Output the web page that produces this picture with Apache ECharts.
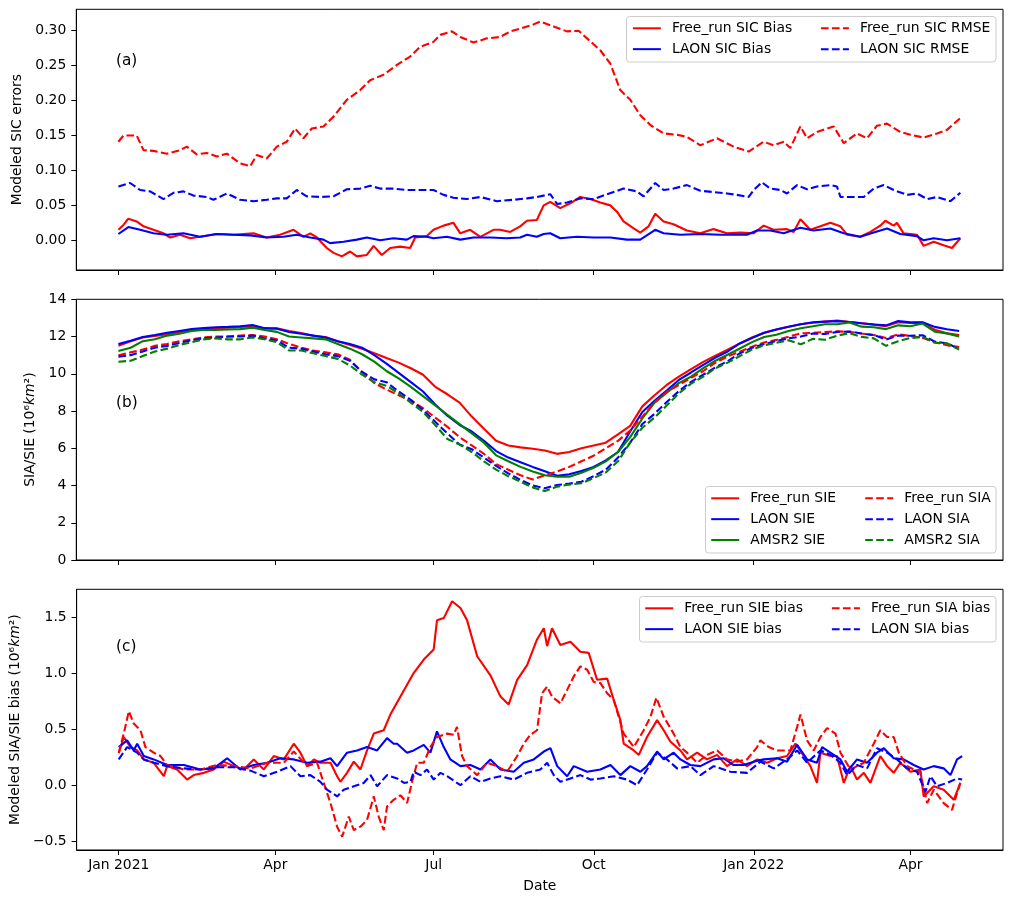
<!DOCTYPE html>
<html><head><meta charset="utf-8">
<script src="https://cdn.jsdelivr.net/npm/echarts@6/dist/echarts.min.js"></script>
<style>html,body{margin:0;padding:0;background:#fff}#chart{width:1014px;height:900px}</style>
</head><body><div id="chart"></div>
<script>
const FONT = 'DejaVu Sans';

// x positions are days since 2021-01-01
const xTickValues = [0, 90, 181, 273, 365, 455];
const xTickLabels = ['Jan 2021', 'Apr', 'Jul', 'Oct', 'Jan 2022', 'Apr'];
const yTicksA = [0, 0.05, 0.1, 0.15, 0.2, 0.25, 0.3];
const yTicksC = [-0.5, 0, 0.5, 1, 1.5];

// ---------- Panel (a): SIC errors (irregular read-off points) ----------
const frSicBiasDays = [0,2.9,5.7,10.5,14.4,20.1,25.9,29.7,35.4,41.2, 46.9,56.5,66.1,77.6,85.2,92.9,100.6,106.3,110.2,114, 119.7,123.6,128.4,133.1,137,142.7,146.6,151.3,156.1,161.9, 167.6,170.5,177.2,181,186.8,192.5,196.4,202.1,207.9,215.5, 219.3,225.1,230.8,234.7,240.4,244.3,248.1,253.8,259.6,265.3, 271.1,276.8,282.6,286.4,290.2,296,299.8,304.6,308.4,313.2, 318.9,326.6,334.3,341.9,349.6,357.3,364.9,370.7,376.4,384.1, 387.9,391.8,397.5,403.3,409,414.8,418.6,426.2,432,437.7, 440.6,445.4,447.3,451.1,458.8,462.6,468.4,474.1,478.9,483.7];
const frSicBias = [0.015,0.022,0.031,0.027,0.02,0.015,0.01,0.004,0.008,0.003, 0.005,0.009,0.008,0.01,0.004,0.008,0.015,0.005,0.01,0.004, -0.011,-0.018,-0.023,-0.016,-0.023,-0.021,-0.008,-0.021,-0.011,-0.009, -0.011,0.004,0.006,0.015,0.021,0.025,0.01,0.015,0.005,0.015, 0.015,0.012,0.02,0.028,0.029,0.05,0.055,0.046,0.053,0.062, 0.059,0.054,0.05,0.041,0.027,0.017,0.011,0.02,0.038,0.027, 0.023,0.014,0.01,0.016,0.01,0.011,0.01,0.021,0.015,0.016, 0.012,0.03,0.015,0.02,0.025,0.02,0.008,0.005,0.012,0.021, 0.028,0.021,0.025,0.01,0.008,-0.008,-0.002,-0.007,-0.011,0.003];

const laonSicBiasDays = [0,5.7,12.5,20.1,27.8,37.4,46.9,56.5,66.1,75.7, 85.2,94.8,102.5,110.2,117.8,121.6,129.3,137,142.7,150.4, 158,165.7,169.5,177.2,181,188.7,196.4,204,213.6,223.2, 230.8,234.7,240.4,244.3,248.1,253.8,263.4,273,282.6,292.1, 299.8,308.4,313.2,322.8,334.3,345.8,353.4,361.1,366.9,374.5, 382.2,391.8,399.4,409,416.7,426.2,433.9,441.6,449.2,458.8, 462.6,468.4,476,483.7];
const laonSicBias = [0.009,0.019,0.015,0.01,0.008,0.01,0.005,0.009,0.008,0.007, 0.004,0.005,0.008,0.004,0.001,-0.004,-0.002,0.001,0.004,0, 0.003,0.001,0.006,0.005,0.003,0.005,0.001,0.004,0.004,0.003, 0.004,0.008,0.005,0.009,0.01,0.003,0.005,0.004,0.004,0.001, 0.001,0.015,0.01,0.008,0.009,0.008,0.008,0.008,0.014,0.014, 0.01,0.018,0.014,0.017,0.01,0.005,0.011,0.017,0.009,0.006, 0,0.003,0,0.003];

const frSicRmseDays = [0,2.9,10.5,14.4,20.1,27.8,35.4,39.3,45,50.8, 56.5,62.3,69.9,75.7,79.5,85.2,91,96.7,101.5,106.3, 111.1,117.8,123.6,131.2,138.9,144.6,152.3,160,167.6,173.4, 181,184.9,191.6,196.4,204,211.7,219.3,225.1,230.8,238.5, 242.3,250,257.7,264.4,269.2,276.8,282.6,288.3,294.1,299.8, 305.6,313.2,320.9,326.6,334.3,343.9,353.4,362.1,370.7,376.4, 382.2,386,391.8,395.6,401.3,410.9,416.7,424.3,430.1,435.8, 441.6,449.2,455,462.6,470.3,476,483.7];
const frSicRmse = [0.141,0.15,0.15,0.129,0.128,0.124,0.129,0.134,0.123,0.125, 0.12,0.124,0.11,0.106,0.122,0.117,0.134,0.141,0.16,0.146, 0.16,0.163,0.177,0.201,0.215,0.229,0.237,0.251,0.263,0.277, 0.284,0.294,0.299,0.291,0.283,0.289,0.291,0.299,0.303,0.309, 0.313,0.306,0.299,0.30,0.289,0.272,0.253,0.215,0.201,0.179, 0.165,0.153,0.151,0.148,0.136,0.146,0.134,0.127,0.141,0.136, 0.141,0.132,0.163,0.146,0.155,0.163,0.139,0.153,0.146,0.164, 0.167,0.155,0.151,0.147,0.153,0.158,0.175];

const laonSicRmseDays = [0,6.7,12.5,18.2,25.9,31.6,37.4,43.1,50.8,54.6, 62.3,69.9,77.6,85.2,91,96.7,102.5,108.2,115.9,123.6, 131.2,138.9,144.6,150.4,158,165.7,173.4,181,186.8,192.5, 200.2,207.9,217.4,227,234.7,240.4,248.1,252,257.7,265.3, 273,280.7,290.2,297.9,301.7,308.4,313.2,318.9,326.6,334.3, 341.9,349.6,355.4,362.1,365,369.7,374.5,380.3,384.1,389.9, 395.6,401.3,409,412.8,414.8,422.4,428.2,433.9,439.7,445.4, 453.1,458.8,464.6,470.3,478,483.7];
const laonSicRmse = [0.077,0.082,0.072,0.07,0.059,0.068,0.07,0.064,0.062,0.058, 0.067,0.058,0.056,0.058,0.06,0.06,0.072,0.063,0.062,0.063, 0.073,0.074,0.078,0.074,0.074,0.072,0.072,0.072,0.065,0.061, 0.059,0.062,0.056,0.058,0.06,0.062,0.066,0.052,0.054,0.06, 0.059,0.066,0.074,0.07,0.063,0.082,0.072,0.074,0.079,0.071, 0.069,0.067,0.065,0.062,0.072,0.083,0.074,0.072,0.067,0.079, 0.073,0.077,0.079,0.077,0.062,0.062,0.062,0.074,0.079,0.072, 0.065,0.067,0.059,0.062,0.056,0.068];

// ---------- Panel (b): SIE / SIA, weekly samples ----------
const weekDays = [0,7,14,21,28,35,42,49,56,63, 70,77,84,91,98,105,112,119,126,133, 140,147,154,161,168,175,182,189,196,203, 210,217,224,231,238,245,252,259,266,273, 280,287,294,301,308,315,322,329,336,343, 350,357,364,371,378,385,392,399,406,413, 420,427,434,441,448,455,462,469,476,483];
const frSIE = [11.5,11.75,11.95,12.03,12.12,12.25,12.33,12.41,12.45,12.48, 12.52,12.55,12.43,12.45,12.3,12.19,12.04,11.97,11.75,11.55, 11.35,11.1,10.85,10.6,10.3,9.95,9.3,8.9,8.45,7.7, 7.05,6.4,6.15,6.05,5.97,5.88,5.7,5.8,6.0,6.15, 6.3,6.75,7.2,8.25,8.85,9.4,9.85,10.25,10.64,10.97, 11.3,11.63,11.95,12.2,12.38,12.53,12.66,12.74,12.8,12.86, 12.78,12.71,12.64,12.56,12.77,12.73,12.75,12.37,12.17,12.08];
const laonSIE = [11.6,11.78,11.98,12.08,12.2,12.3,12.4,12.45,12.5,12.52, 12.55,12.62,12.45,12.42,12.25,12.15,12.05,11.95,11.75,11.6, 11.4,11.0,10.55,10.05,9.55,9.05,8.35,7.75,7.25,6.9, 6.4,5.85,5.5,5.25,5.0,4.77,4.52,4.6,4.78,5.0, 5.35,5.8,6.9,7.95,8.55,9.1,9.67,10.07,10.48,10.87, 11.2,11.63,11.92,12.2,12.38,12.53,12.66,12.77,12.8,12.83, 12.78,12.71,12.65,12.6,12.83,12.76,12.77,12.52,12.39,12.3];
const amsrSIE = [11.22,11.4,11.75,11.85,12.05,12.15,12.3,12.35,12.35,12.38, 12.4,12.48,12.35,12.25,12.0,11.95,11.9,11.85,11.6,11.35, 11.05,10.65,10.15,9.75,9.3,8.8,8.3,7.8,7.3,6.8, 6.3,5.62,5.3,5.0,4.75,4.55,4.47,4.47,4.68,4.95, 5.3,5.8,6.6,7.6,8.45,8.98,9.5,9.85,10.3,10.7, 11.02,11.36,11.7,11.98,12.1,12.3,12.45,12.55,12.66,12.66, 12.75,12.53,12.5,12.4,12.6,12.55,12.7,12.26,12.17,12.0];
const frSIA = [11.0,11.15,11.3,11.5,11.6,11.75,11.85,11.95,12.0,12.0, 12.05,12.08,12.0,11.85,11.6,11.4,11.25,11.15,11.05,10.75, 10.1,9.5,9.15,8.85,8.55,8.15,7.65,7.15,6.6,6.15, 5.7,5.15,4.85,4.55,4.32,4.55,4.75,5.0,5.3,5.6, 6.0,6.4,6.95,7.7,8.45,9.03,9.4,9.78,10.15,10.6, 10.93,11.19,11.45,11.68,11.82,11.99,12.17,12.2,12.24,12.28, 12.25,12.16,12.08,11.92,12.12,12.03,11.93,11.7,11.53,11.43];
const laonSIA = [10.92,11.0,11.2,11.4,11.5,11.65,11.8,11.9,11.95,12.0, 12.0,12.05,11.9,11.8,11.4,11.35,11.2,11.05,10.95,10.7, 10.1,9.7,9.55,9.05,8.6,8.05,7.42,6.8,6.2,5.95, 5.5,5.05,4.65,4.3,4.0,3.85,4.03,4.1,4.2,4.5, 4.85,5.5,6.3,7.3,7.85,8.48,9.07,9.57,9.95,10.35, 10.67,11.1,11.4,11.6,11.76,11.9,12.0,12.16,12.14,12.25, 12.27,12.16,12.08,11.84,12.05,12.04,12.07,11.73,11.64,11.33];
const amsrSIA = [10.65,10.7,10.95,11.2,11.35,11.55,11.7,11.85,11.9,11.85, 11.85,11.95,11.85,11.7,11.25,11.25,11.1,10.95,10.8,10.45, 9.95,9.55,9.35,8.95,8.45,7.95,7.25,6.5,6.2,5.8, 5.3,4.85,4.5,4.2,3.9,3.7,3.94,4.05,4.12,4.4, 4.7,5.3,6.3,7.1,7.65,8.3,8.95,9.47,9.85,10.3, 10.6,10.95,11.3,11.53,11.66,11.8,11.58,11.88,11.83,12.05, 12.18,11.98,11.9,11.5,11.75,11.92,11.98,11.67,11.64,11.3];

// ---------- Panel (c): SIE / SIA bias (irregular read-off points) ----------
const frSIEBiasDays = [0,2.9,6.7,10.6,14.4,20.1,25.9,27.8,33.5,39.3, 43.1,48.9,54.6,60.4,66.1,71.9,77.6,83.4,89.1,94.9, 100.6,104.4,108.3,112.1,115.9,121.7,125.5,127.4,131.2,135.1, 138.9,142.7,146.6,152.3,156.1,161.9,169.5,175.3,181,182.9, 186.8,191.6,196.4,200.2,206,213.6,219.4,224.1,229,234.7, 240.4,244.3,246.2,249,253.8,259.6,265.3,270.1,274.9,280.7, 284.5,288.3,290.2,296,298.9,303.6,309.4,313.2,317,322.8, 326.6,332.4,338.1,343.9,349.6,355.4,361.1,366.9,372.6,378.4, 384.1,388.9,393.7,397.5,401.3,403.3,409,412.8,416.7,420.5, 424.3,428.2,432,437.7,441.6,445.4,449.2,455,460.7,462.6, 468.4,474.1,479.9,483.7];
const frSIEBias = [0.285,0.43,0.34,0.31,0.23,0.2,0.08,0.17,0.14,0.05, 0.09,0.11,0.14,0.21,0.17,0.14,0.23,0.14,0.26,0.23, 0.37,0.29,0.17,0.23,0.2,0.2,0.08,0.03,0.11,0.21, 0.14,0.31,0.46,0.49,0.63,0.79,1.0,1.12,1.21,1.47, 1.49,1.64,1.58,1.47,1.15,0.98,0.79,0.72,0.94,1.07, 1.3,1.4,1.24,1.4,1.25,1.28,1.19,1.18,0.94,0.95, 0.76,0.58,0.37,0.31,0.27,0.43,0.58,0.49,0.39,0.31, 0.23,0.29,0.23,0.27,0.17,0.23,0.17,0.23,0.2,0.24, 0.26,0.37,0.26,0.17,0.02,0.29,0.26,0.26,0.02,0.17, 0.05,0.11,0.02,0.26,0.17,0.11,0.2,0.12,0.14,-0.1, -0.01,-0.04,-0.13,0.02];

const laonSIEBiasDays = [0,4.8,8.6,10.6,14.4,20.1,27.8,37.4,46.9,54.6, 62.3,69.9,77.6,85.3,92.9,100.6,108.3,115.9,121.7,125.5, 131.2,137,142.7,148.5,154.2,158,160,165.7,169.5,175.3, 179.1,182.9,186.8,190.6,196.4,202.1,207.9,213.6,219.4,227, 232.8,238.5,244.3,248.1,252,257.7,261.5,269.2,276.8,282.6, 288.3,294,299.8,303.6,309.4,313.2,318.9,322.8,328.5,334.3, 341.9,347.7,353.4,359.2,364.9,370.7,378.4,384.1,389.9,395.6, 401.3,404.2,409,414.8,418.6,424.3,430.1,435.8,439.7,445.4, 451.1,456.9,462.6,468.4,474.1,478,481.8,484.7];
const laonSIEBias = [0.34,0.4,0.31,0.37,0.26,0.23,0.18,0.18,0.14,0.15, 0.24,0.14,0.18,0.2,0.24,0.23,0.2,0.21,0.24,0.17, 0.29,0.31,0.34,0.31,0.42,0.37,0.37,0.29,0.31,0.36, 0.29,0.48,0.34,0.23,0.17,0.18,0.14,0.23,0.14,0.12, 0.2,0.23,0.3,0.33,0.17,0.08,0.17,0.12,0.14,0.18, 0.09,0.17,0.12,0.17,0.3,0.23,0.29,0.23,0.18,0.17, 0.23,0.24,0.18,0.18,0.21,0.23,0.24,0.21,0.36,0.23, 0.2,0.34,0.29,0.23,0.12,0.23,0.2,0.29,0.33,0.24, 0.23,0.18,0.14,0.17,0.15,0.09,0.23,0.26];

const frSIABiasDays = [0,2.9,5.8,8.6,12.5,15.3,20.1,24,27.8,37.4, 46.9,56.5,66.1,75.7,85.3,94.9,100.6,108.3,114,117.8, 121.7,125.5,128.4,132.2,135.1,138.9,142.7,146.6,149.4,152.3, 154.2,158,161.9,165.7,168.6,171.5,175.3,179.1,182.9,188.7, 192.5,194.4,197.3,200.2,206,211.7,217.4,223.2,229,232.8, 236.6,240.4,243.3,246.2,249,253.8,257.7,261.5,265.3,269.2, 273,276.8,280.7,284.5,290.2,296,301.7,305.6,309,313.2, 318.9,322.8,326.6,332.4,338.1,343.9,349.6,355.4,361.1,366.9, 368.8,373.6,378.4,386,389.9,391.8,395.6,399.4,403.3,407.1, 411.9,414.8,420.5,428.2,433.9,437.7,441.6,445.4,448.3,453.1, 460.7,464.6,468.4,474.1,478.9,481.8,483.7];
const frSIABias = [0.29,0.46,0.66,0.55,0.49,0.34,0.29,0.26,0.18,0.14, 0.14,0.18,0.17,0.15,0.2,0.2,0.3,0.17,0.2,0.02, -0.16,-0.37,-0.46,-0.28,-0.4,-0.37,-0.31,-0.1,-0.28,-0.4, -0.19,-0.13,-0.09,-0.16,0.03,0.2,0.2,0.34,0.43,0.46, 0.45,0.52,0.26,0.17,0.09,0.2,0.17,0.12,0.26,0.37, 0.45,0.49,0.82,0.88,0.79,0.73,0.85,0.97,1.06,1.03, 0.92,0.91,0.82,0.76,0.46,0.34,0.49,0.61,0.78,0.61, 0.46,0.34,0.29,0.2,0.27,0.31,0.23,0.21,0.23,0.34, 0.4,0.34,0.31,0.31,0.52,0.63,0.4,0.31,0.43,0.51, 0.46,0.29,0.14,0.2,0.37,0.49,0.43,0.43,0.29,0.17, 0.11,-0.16,-0.04,-0.16,-0.22,-0.07,0.02];

const laonSIABiasDays = [0,4.8,10.6,14.4,20.1,27.8,37.4,46.9,56.5,66.1, 75.7,83.4,91,98.7,104.4,110.2,115.9,119.7,123.6,125.5, 129.3,135.1,140.8,144.7,148.5,154.2,160,164,167.7,169.5, 173.4,177.2,181,184.9,188.7,196.4,202.1,207.9,213.6,219.4, 227,234.7,242.3,246.2,250,253.8,259.6,265.3,271.1,276.8, 284.5,292.1,297.9,303.6,309.4,315.1,320.9,328.5,334.3,341.9, 351.5,361.1,368.8,376.4,384.1,389.9,395.6,403.3,409,414.8, 418.6,424.3,430.1,435.8,441.6,447.3,453.1,458.8,463.6,466.5, 470.3,476,481.8,484.7];
const laonSIABias = [0.23,0.34,0.29,0.23,0.2,0.17,0.15,0.14,0.16,0.16, 0.13,0.08,0.12,0.17,0.08,0.09,0.03,-0.04,-0.08,-0.1, -0.04,-0.01,0.02,0.09,-0.01,0.09,0.06,0.02,0.03,0.12, 0.09,0.14,0.05,0.11,0.08,0.0,0.08,0.03,0.06,0.08, 0.05,0.11,0.14,0.2,0.09,0.03,0.06,0.09,0.05,0.06, 0.08,0.05,0.0,0.14,0.29,0.23,0.15,0.17,0.09,0.17, 0.12,0.11,0.21,0.15,0.23,0.31,0.2,0.31,0.27,0.2, 0.09,0.18,0.15,0.33,0.29,0.23,0.15,0.12,-0.06,0.08, -0.01,0.02,0.06,0.05];

const RED = '#ff0000', BLUE = '#0000ff', GREEN = '#008000';
const DASH = [7.7, 3.3];
const LW = 2.1;

const X_MIN = -24.2;
const X_MAX = 508.2;
const gridTops = [9.3, 299.3, 589.3];
const GRID_H = 260.7;

function pair(xs, ys) {
  const n = Math.min(xs.length, ys.length);
  const out = [];
  for (let i = 0; i < n; i++) out.push([xs[i], ys[i]]);
  return out;
}

function line(name, xs, ys, color, dashed, gi) {
  return {
    name, type: 'line', xAxisIndex: gi, yAxisIndex: gi,
    data: pair(xs, ys), symbol: 'none', showSymbol: false,
    lineStyle: { color, width: LW, type: dashed ? DASH : 'solid' },
    itemStyle: { color },
    emphasis: { disabled: true }, z: 2
  };
}

const txt = { fontFamily: FONT, fontSize: 13.9, color: '#000' };

function xAxis(gi, showLabels) {
  return {
    type: 'value', gridIndex: gi, min: X_MIN, max: X_MAX,
    axisLine: { show: true, onZero: false, lineStyle: { color: '#000', width: 1 } },
    axisTick: { show: true, length: 5, inside: false, lineStyle: { color: '#000', width: 1 }, customValues: xTickValues },
    axisLabel: Object.assign({
      show: showLabels, customValues: xTickValues, margin: 8,
      formatter: v => { const i = xTickValues.indexOf(v); return i >= 0 ? xTickLabels[i] : ''; }
    }, txt),
    splitLine: { show: false },
    name: showLabels ? 'Date' : '', nameLocation: 'middle', nameGap: 29, nameTextStyle: txt
  };
}

function yAxis(gi, opts) {
  return Object.assign({
    type: 'value', gridIndex: gi,
    axisLine: { show: true, onZero: false, lineStyle: { color: '#000', width: 1 } },
    splitLine: { show: false },
    nameLocation: 'middle', nameRotate: 90,
  }, opts);
}

function legendCol(names, left, top) {
  return {
    orient: 'vertical', left, top, data: names, itemWidth: 28, itemHeight: 14, itemGap: 6.85,
    padding: 0, selectedMode: false, z: 5,
    itemStyle: { opacity: 0 },
    textStyle: { fontFamily: FONT, fontSize: 13.9, color: '#000', padding: [0, 0, 0, 6], lineHeight: 14 }
  };
}

const tickStyle = { show: true, length: 5, lineStyle: { color: '#000', width: 1 } };
const richI = { i: { fontFamily: FONT, fontSize: 13.9, fontStyle: 'italic', color: '#000' } };

const option = {
  animation: false,
  backgroundColor: '#fff',
  grid: gridTops.map(t => ({ left: 76.3, right: 11, top: t, height: GRID_H, show: true, borderColor: '#000', borderWidth: 1, backgroundColor: 'transparent', containLabel: false })),
  xAxis: [xAxis(0, false), xAxis(1, false), xAxis(2, true)],
  yAxis: [
    yAxis(0, {
      min: -0.0425, max: 0.3306,
      axisTick: Object.assign({ customValues: yTicksA }, tickStyle),
      axisLabel: Object.assign({ customValues: yTicksA, margin: 10, formatter: v => v.toFixed(2) }, txt),
      name: 'Modeled SIC errors', nameGap: 45, nameTextStyle: txt
    }),
    yAxis(1, {
      min: 0, max: 14, interval: 2,
      axisTick: tickStyle,
      axisLabel: Object.assign({ margin: 10 }, txt),
      name: 'SIA/SIE (10⁶{i|km}²)', nameGap: 34,
      nameTextStyle: Object.assign({ rich: richI }, txt)
    }),
    yAxis(2, {
      min: -0.578, max: 1.747,
      axisTick: Object.assign({ customValues: yTicksC }, tickStyle),
      axisLabel: Object.assign({ customValues: yTicksC, margin: 10, formatter: v => v.toFixed(1).replace('-', '\u2212') }, txt),
      name: 'Modeled SIA/SIE bias (10⁶{i|km}²)', nameGap: 49,
      nameTextStyle: Object.assign({ rich: richI }, txt)
    })
  ],
  legend: [
    legendCol(['Free_run SIC Bias', 'LAON SIC Bias'], 631.9, 21.3),
    legendCol(['Free_run SIC RMSE', 'LAON SIC RMSE'], 819.9, 21.3),
    legendCol(['Free_run SIE', 'LAON SIE', 'AMSR2 SIE'], 710.2, 491.3),
    legendCol(['Free_run SIA', 'LAON SIA', 'AMSR2 SIA'], 864.2, 491.3),
    legendCol(['Free_run SIE bias', 'LAON SIE bias'], 644.2, 601.3),
    legendCol(['Free_run SIA bias', 'LAON SIA bias'], 830.9, 601.3)
  ],
  graphic: [
    { type: 'rect', shape: { x: 626.5, y: 16.5, width: 369.5, height: 45.5, r: 3 }, style: { fill: 'rgba(255,255,255,0.8)', stroke: '#cccccc', lineWidth: 1 }, z: 3 },
    { type: 'rect', shape: { x: 705.5, y: 486.5, width: 290.5, height: 66.5, r: 3 }, style: { fill: 'rgba(255,255,255,0.8)', stroke: '#cccccc', lineWidth: 1 }, z: 3 },
    { type: 'rect', shape: { x: 639.5, y: 596.5, width: 356.5, height: 45.5, r: 3 }, style: { fill: 'rgba(255,255,255,0.8)', stroke: '#cccccc', lineWidth: 1 }, z: 3 },
    { type: 'text', x: 116, y: 61.5, style: { text: '(a)', fontFamily: FONT, fontSize: 15.3, fill: '#000', verticalAlign: 'middle', textVerticalAlign: 'middle' }, z: 3 },
    { type: 'text', x: 116, y: 403, style: { text: '(b)', fontFamily: FONT, fontSize: 15.3, fill: '#000', verticalAlign: 'middle', textVerticalAlign: 'middle' }, z: 3 },
    { type: 'text', x: 116, y: 647, style: { text: '(c)', fontFamily: FONT, fontSize: 15.3, fill: '#000', verticalAlign: 'middle', textVerticalAlign: 'middle' }, z: 3 }
  ],
  series: [
    line('Free_run SIC Bias', frSicBiasDays, frSicBias, RED, false, 0),
    line('LAON SIC Bias', laonSicBiasDays, laonSicBias, BLUE, false, 0),
    line('Free_run SIC RMSE', frSicRmseDays, frSicRmse, RED, true, 0),
    line('LAON SIC RMSE', laonSicRmseDays, laonSicRmse, BLUE, true, 0),
    line('Free_run SIE', weekDays, frSIE, RED, false, 1),
    line('LAON SIE', weekDays, laonSIE, BLUE, false, 1),
    line('AMSR2 SIE', weekDays, amsrSIE, GREEN, false, 1),
    line('Free_run SIA', weekDays, frSIA, RED, true, 1),
    line('LAON SIA', weekDays, laonSIA, BLUE, true, 1),
    line('AMSR2 SIA', weekDays, amsrSIA, GREEN, true, 1),
    line('Free_run SIE bias', frSIEBiasDays, frSIEBias, RED, false, 2),
    line('LAON SIE bias', laonSIEBiasDays, laonSIEBias, BLUE, false, 2),
    line('Free_run SIA bias', frSIABiasDays, frSIABias, RED, true, 2),
    line('LAON SIA bias', laonSIABiasDays, laonSIABias, BLUE, true, 2)
  ]
};

const chart = echarts.init(document.getElementById('chart'), null, { renderer: 'canvas' });
chart.setOption(option);
</script>
</body></html>
